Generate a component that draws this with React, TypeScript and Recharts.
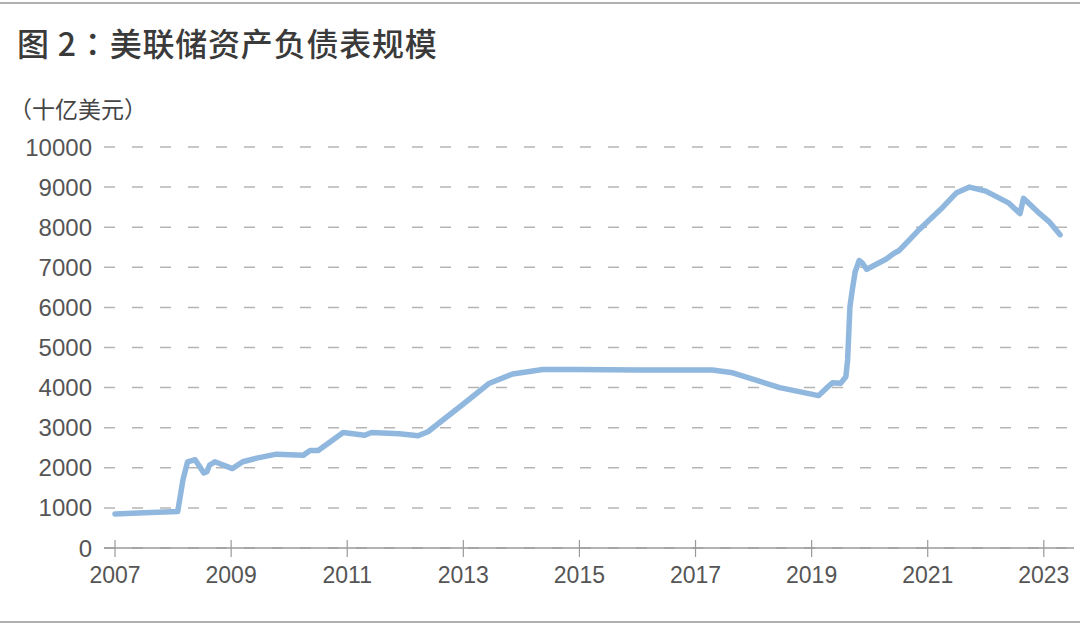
import { LineChart, Line, XAxis, YAxis, CartesianGrid } from "recharts";

// 美联储资产负债表规模（十亿美元）
const dates = [
  2007.0, 2007.5, 2008.08, 2008.17, 2008.25, 2008.38, 2008.53, 2008.58, 2008.63, 2008.72,
  2009.02, 2009.2, 2009.44, 2009.78, 2010.24, 2010.36, 2010.5, 2010.93, 2011.3, 2011.42,
  2011.9, 2012.22, 2012.39, 2013.0, 2013.45, 2013.85, 2014.37, 2015.0, 2016.0, 2017.29,
  2017.64, 2018.45, 2019.12, 2019.25, 2019.36, 2019.5, 2019.59, 2019.62, 2019.66, 2019.7,
  2019.75, 2019.82, 2019.87, 2019.95, 2020.28, 2020.42, 2020.51, 2020.68, 2020.86, 2021.26,
  2021.49, 2021.72, 2022.0, 2022.4, 2022.59, 2022.65, 2022.92, 2023.09, 2023.28,
];
const assets = [
  850, 880, 910, 1700, 2150, 2200, 1870, 1900, 2070, 2150,
  1980, 2150, 2240, 2340, 2310, 2430, 2430, 2880, 2810, 2880,
  2850, 2800, 2900, 3590, 4110, 4340, 4450, 4450, 4440, 4440,
  4370, 4000, 3800, 3980, 4120, 4110, 4270, 4690, 6020, 6430,
  6890, 7170, 7110, 6950, 7200, 7350, 7420, 7680, 7950, 8500,
  8850, 9000, 8900, 8600, 8340, 8720, 8350, 8140, 7810,
];
const xTicks = [2007, 2009, 2011, 2013, 2015, 2017, 2019, 2021, 2023];
const yTicks = [0, 1000, 2000, 3000, 4000, 5000, 6000, 7000, 8000, 9000, 10000];

const data = dates.map((d, i) => ({ date: d, value: assets[i] }));

const latin = '"Liberation Sans", Arial, sans-serif';
const cjk = '"Noto Sans CJK SC", "Liberation Sans", sans-serif';

// x轴刻度：刻度线穿过轴线
function YearTick({ x, y, payload }: any) {
  return (
    <g>
      <line x1={x} x2={x} y1={y - 8} y2={y + 9} stroke="#9a9a9a" strokeWidth={1.2} />
      <text x={x} y={y + 35} textAnchor="middle" fontSize={23} fill="#555" fontFamily={latin}>
        {payload.value}
      </text>
    </g>
  );
}

export default function App() {
  return (
    <div style={{ position: "absolute", left: 0, top: 0, width: 1080, height: 627, background: "#fff" }}>
      <div style={{ position: "absolute", left: 0, top: 2, width: 1080, height: 2, background: "#b0b0b0" }} />
      <div
        style={{
          position: "absolute",
          left: 17,
          top: 21,
          fontSize: 32,
          fontWeight: 500,
          letterSpacing: 0.8,
          color: "#3a3a3a",
          fontFamily: cjk,
          lineHeight: "42px",
          whiteSpace: "nowrap",
        }}
      >
        图 2<span style={{ fontFamily: '"Noto Sans CJK TC", sans-serif' }}>：</span>美联储资产负债表规模
      </div>
      <div
        style={{
          position: "absolute",
          left: 9,
          top: 93,
          fontSize: 23,
          color: "#444",
          fontFamily: cjk,
          lineHeight: "30px",
          whiteSpace: "nowrap",
        }}
      >
        （十亿美元）
      </div>
      <LineChart
        width={1080}
        height={627}
        data={data}
        margin={{ top: 147, right: 6, bottom: 0, left: 0 }}
        style={{ position: "absolute", left: 0, top: 0 }}
      >
        <CartesianGrid vertical={false} stroke="#b5b5b5" strokeWidth={1.5} strokeDasharray="11 17" />
        <XAxis
          dataKey="date"
          type="number"
          domain={[2006.81, 2023.52]}
          ticks={xTicks}
          height={79}
          tickSize={0}
          tickMargin={0}
          tickLine={false}
          axisLine={{ stroke: "#9a9a9a", strokeWidth: 1.5 }}
          tick={<YearTick />}
          allowDataOverflow
        />
        <YAxis
          type="number"
          domain={[0, 10000]}
          ticks={yTicks}
          width={104}
          tickSize={0}
          tickMargin={12}
          tickLine={false}
          axisLine={false}
          tick={{ fontSize: 24, fill: "#555", fontFamily: latin }}
          interval={0}
        />
        <Line
          type="linear"
          dataKey="value"
          stroke="#90b8df"
          strokeWidth={5.5}
          strokeLinejoin="round"
          strokeLinecap="round"
          dot={false}
          isAnimationActive={false}
        />
      </LineChart>
      <div style={{ position: "absolute", left: 0, top: 621, width: 1080, height: 2, background: "#b0b0b0" }} />
    </div>
  );
}
